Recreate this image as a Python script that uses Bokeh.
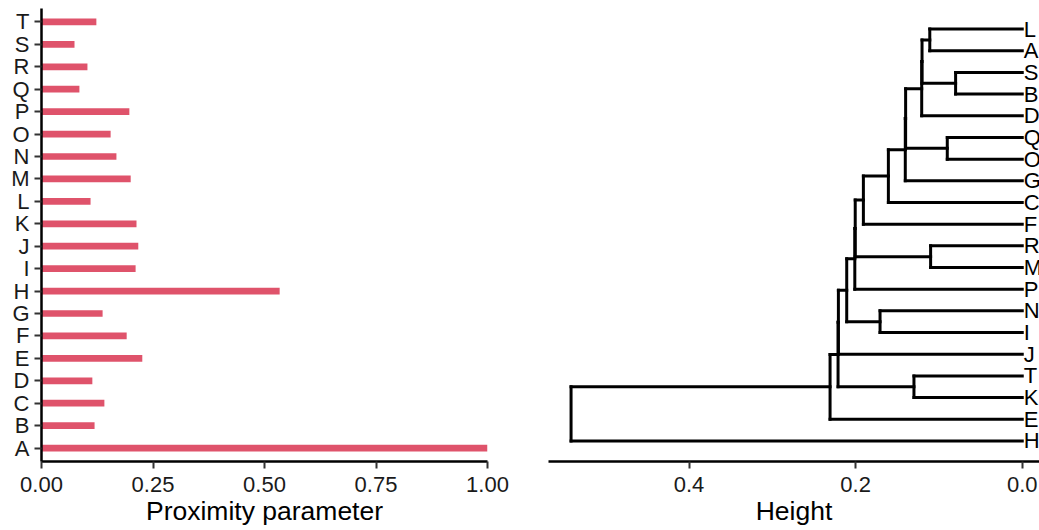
from bokeh.plotting import figure
from bokeh.layouts import row
from bokeh.models import Range1d, FixedTicker, PrintfTickFormatter, ColumnDataSource
from bokeh.embed import file_html
from bokeh.resources import INLINE

# ---------------- data ----------------
categories = list("ABCDEFGHIJKLMNOPQRST")
proximity = [1.00, 0.119, 0.141, 0.114, 0.226, 0.191, 0.137, 0.534, 0.211, 0.217,
             0.213, 0.110, 0.200, 0.168, 0.155, 0.197, 0.085, 0.103, 0.074, 0.123]
prox_ticks = [0.0, 0.25, 0.5, 0.75, 1.0]

# dendrogram: leaf order from bottom to top, and merges (linkage)
leaf_order = ["H", "E", "K", "T", "J", "I", "N", "P", "M", "R",
              "F", "C", "G", "O", "Q", "D", "B", "S", "A", "L"]
merge_left = ["L", "S", "m1", "m3", "Q", "m4", "m6", "m7", "m8", "R",
              "m9", "m11", "N", "m12", "m14", "T", "m15", "m17", "m18"]
merge_right = ["A", "B", "m2", "D", "O", "m5", "G", "C", "F", "M",
               "m10", "P", "I", "m13", "J", "K", "m16", "E", "H"]
merge_height = [0.111, 0.080, 0.1203, 0.1207, 0.090, 0.1400, 0.1404, 0.1607, 0.1907, 0.110,
                0.2005, 0.2010, 0.1707, 0.2107, 0.2207, 0.130, 0.2211, 0.2307, 0.5416]
height_ticks = [0.0, 0.2, 0.4]

FONT = "Liberation Sans"
BAR = "#DF536B"


def style_axes(p):
    for ax in p.axis:
        ax.axis_line_color = "black"
        ax.axis_line_width = 2.5
        ax.major_tick_line_color = "#333333"
        ax.major_tick_line_width = 2
        ax.major_tick_out = 7
        ax.major_tick_in = 0
        ax.minor_tick_line_color = None
        ax.major_label_text_font = FONT
        ax.major_label_text_font_size = "22px"
        ax.major_label_text_color = "#1a1a1a"
        ax.axis_label_text_font = FONT
        ax.axis_label_text_font_size = "26.5px"
        ax.axis_label_text_font_style = "normal"
        ax.axis_label_text_color = "black"
    p.xgrid.visible = False
    p.ygrid.visible = False
    p.outline_line_color = None


# ---------------- left: bar chart ----------------
ypos = [i + 1 for i in range(len(categories))]
p1 = figure(width=517, height=530, output_backend="svg", toolbar_location=None,
            x_range=Range1d(0, 1), y_range=Range1d(0.4, len(categories) + 0.6),
            min_border_left=41, min_border_right=30, min_border_top=8, min_border_bottom=69)
p1.hbar(y=ypos, left=0, right=proximity, height=0.3, color=BAR, line_color=None)
style_axes(p1)
p1.xaxis.ticker = FixedTicker(ticks=prox_ticks)
p1.xaxis.formatter = PrintfTickFormatter(format="%.2f")
p1.xaxis.axis_label = "Proximity parameter"
p1.xaxis.major_label_standoff = 8
p1.xaxis.axis_label_standoff = 1
p1.yaxis.ticker = FixedTicker(ticks=ypos)
p1.yaxis.major_label_overrides = {y: c for y, c in zip(ypos, categories)}
p1.yaxis.major_label_standoff = 5

# ---------------- right: dendrogram ----------------
pos = {leaf: i + 1 for i, leaf in enumerate(leaf_order)}
hgt = {leaf: 0.0 for leaf in leaf_order}
x0, y0, x1, y1 = [], [], [], []
for k, (a, b, h) in enumerate(zip(merge_left, merge_right, merge_height)):
    name = "m%d" % (k + 1)
    # vertical
    x0.append(h); y0.append(pos[a]); x1.append(h); y1.append(pos[b])
    # horizontals from children
    for c in (a, b):
        x0.append(hgt[c]); y0.append(pos[c]); x1.append(h); y1.append(pos[c])
    pos[name] = (pos[a] + pos[b]) / 2.0
    hgt[name] = h

root_h = max(merge_height)
p2 = figure(width=522, height=530, output_backend="svg", toolbar_location=None,
            x_range=Range1d(root_h * 1.05, -0.0207), y_range=Range1d(0.05, len(leaf_order) + 0.95),
            y_axis_location=None,
            min_border_left=31, min_border_right=0, min_border_top=8, min_border_bottom=69)
p2.segment(x0=x0, y0=y0, x1=x1, y1=y1, line_color="black", line_width=3, line_cap="square")
lab = ColumnDataSource(dict(x=[0.0] * len(leaf_order), y=[pos[l] for l in leaf_order], t=leaf_order))
p2.text(x="x", y="y", text="t", source=lab, x_offset=1.5, text_baseline="middle", text_align="left",
        text_font_size="22px", text_color="black", text_font={"value": FONT})
style_axes(p2)
p2.xaxis.ticker = FixedTicker(ticks=height_ticks)
p2.xaxis.formatter = PrintfTickFormatter(format="%.1f")
p2.xaxis.axis_label = "Height"
p2.xaxis.major_label_standoff = 8
p2.xaxis.axis_label_standoff = 1

layout = row(p1, p2)
open("out.html", "w").write(file_html(layout, INLINE))
